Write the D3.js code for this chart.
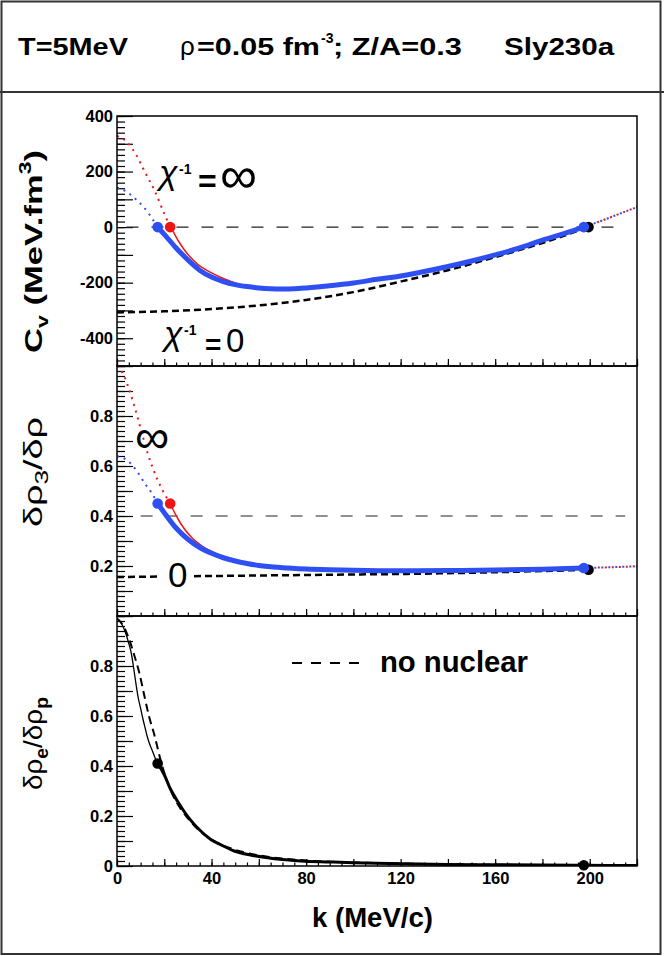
<!DOCTYPE html>
<html>
<head>
<meta charset="utf-8">
<script src="https://cdn.jsdelivr.net/npm/d3@7"></script>
<style>
  body { margin: 0; background: #fff; }
  svg { display: block; }
  text { font-family: "Liberation Sans", Arial, Helvetica, sans-serif; }
</style>
</head>
<body>
<svg id="drawing_region"></svg>
<script>
// ---- values, k in MeV/c ----
const kDomain = [0, 220];
const kLabels = [0, 40, 80, 120, 160, 200];

// top panel: C_v (MeV.fm^3)
const cvBlue = [[17.2,0],[20,-26],[25,-75],[30,-118],[35,-155],[40,-180],[45,-196],[50,-207],[55,-214],[60,-219],[65,-222],[70,-223],[75,-222],[80,-219],[90,-211],[100,-201],[110,-188],[120,-176],[130,-160],[140,-142],[150,-122],[160,-100],[170,-76],[180,-47],[190,-21],[197.5,0]];
const cvRed = [[22.5,0],[24,-20],[26,-50],[28,-76],[31,-108],[34,-133],[37,-150],[40,-165],[45,-185],[50,-201],[55,-212],[60,-218],[65,-222]];
const cvBlueLow = [[0,142],[4,128],[8,100],[11,75],[14,42],[17.2,0]];
const cvRedLow = [[0,328],[4,308],[8,262],[12,195],[16,130],[20,48],[22.5,0]];
const cvHigh = [[197.5,0],[205,23],[212,46],[220,72]];
const cvZero = [[0,-307],[20,-303],[40,-295],[60,-282],[80,-262],[100,-234],[120,-196],[140,-155],[160,-108],[180,-57],[199.5,0]];
const cvRef = [[4,0],[215,0]];
const cvBlueDots = [[17.2,0],[197.5,0]];
const cvRedDots = [[22.5,0]];
const cvBlackDots = [[199.5,0]];
const cvLabels = [400, 200, 0, -200, -400];

// middle panel: d rho3 / d rho
const r3Blue = [[17.2,0.45],[20,0.413],[25,0.352],[30,0.307],[35,0.274],[40,0.251],[45,0.233],[50,0.22],[55,0.21],[60,0.202],[70,0.193],[80,0.188],[90,0.185],[100,0.183],[120,0.181],[140,0.182],[160,0.184],[180,0.187],[197.5,0.192]];
const r3Red = [[22.5,0.45],[24,0.42],[26,0.385],[28,0.355],[32,0.31],[36,0.28],[40,0.258],[45,0.238],[50,0.222],[55,0.211],[60,0.203]];
const r3BlueLow = [[0,0.639],[4,0.625],[8,0.585],[12,0.527],[15,0.487],[17.2,0.45]];
const r3RedLow = [[0,1.0],[3,0.96],[5,0.91],[7,0.85],[9,0.785],[11,0.715],[13,0.65],[15,0.595],[17,0.548],[20,0.49],[22.5,0.45]];
const r3High = [[197.5,0.192],[205,0.194],[212,0.196],[220,0.199]];
const r3Zero = [[0,0.156],[50,0.161],[100,0.166],[120,0.168],[150,0.173],[199.5,0.185]];
const r3Ref = [[10,0.4],[215,0.4]];
const r3BlueDots = [[17.2,0.45],[197.5,0.192]];
const r3RedDots = [[22.5,0.45]];
const r3BlackDots = [[199.5,0.185]];
const r3Labels = [0.2, 0.4, 0.6, 0.8];

// bottom panel: d rho_e / d rho_p
const reThin = [[0,0.99],[2,0.968],[3.5,0.936],[5,0.89],[6,0.853],[7,0.795],[8,0.73],[9,0.672],[10,0.63],[11,0.587],[12,0.548],[13,0.511],[14,0.483],[15,0.46],[16,0.435],[17.2,0.41]];
const reThick = [[17.2,0.41],[20,0.365],[22.5,0.31],[25.6,0.259],[29,0.21],[32.7,0.166],[36,0.135],[39.7,0.106],[45,0.08],[49.6,0.06],[56,0.045],[63.7,0.033],[70,0.026],[77.8,0.02],[90,0.016],[100,0.013],[120,0.009],[140,0.006],[160,0.005],[180,0.004],[197.5,0.003],[220,0.002]];
const reNoNuclear = [[0,0.99],[2,0.97],[4.5,0.923],[7.3,0.843],[9.5,0.77],[11.5,0.684],[13.5,0.6],[15.8,0.525],[18.6,0.418],[21,0.345],[24.2,0.272],[27,0.228],[29.9,0.192],[35,0.14],[41,0.1],[49.6,0.066],[56,0.05],[63.7,0.037],[70,0.03],[80,0.022],[100,0.014],[120,0.01],[140,0.007],[160,0.005],[200,0.003],[220,0.002]];
const reDots = [[17.2,0.41],[197.5,0.003]];
const reLabels = [0, 0.2, 0.4, 0.6, 0.8];

const BLUE = '#2e50f2', RED = '#f01414';

const svg = d3.select('#drawing_region').attr('width', 664).attr('height', 956);

const x = d3.scaleLinear().domain(kDomain).range([117, 637]);
const yCv = d3.scaleLinear().domain([-500, 400]).range([366, 116]);
const yR3 = d3.scaleLinear().domain([0, 1]).range([616, 366]);
const yRe = d3.scaleLinear().domain([0, 1]).range([866, 616]);

// outer frame + header separator
svg.append('rect').attr('x', 1.5).attr('y', 1.5).attr('width', 659).attr('height', 952.5)
  .attr('fill', 'none').attr('stroke', '#333').attr('stroke-width', 2);
svg.append('line').attr('x1', 0).attr('x2', 664).attr('y1', 92).attr('y2', 92)
  .attr('stroke', '#333').attr('stroke-width', 2);

function fitText(tx, ty, rot, target, build) {
  const g = svg.append('g');
  const t = g.append('text');
  build(t);
  const w = t.node().getBBox().width;
  g.attr('transform', `translate(${tx},${ty}) rotate(${rot}) scale(${target / w},1)`);
  return g;
}

function panel(id, y, step, minorStep, labels, fmt, withXLabels) {
  const [yb, yt] = y.range();
  const [lo, hi] = y.domain();

  // left axis: minor, major, labels
  const major = d3.range(lo, hi + step / 2, step);
  const minor = d3.range(lo, hi + minorStep / 2, minorStep);
  const left = svg.append('g').attr('transform', 'translate(117,0)');
  left.append('g').call(d3.axisLeft(y).tickValues(minor).tickSizeInner(-8).tickSizeOuter(0).tickFormat(''));
  left.append('g').call(d3.axisLeft(y).tickValues(major).tickSizeInner(-16).tickSizeOuter(0).tickFormat(''));
  left.append('g').call(d3.axisLeft(y).tickValues(labels).tickSize(0).tickPadding(4).tickFormat(fmt));

  // bottom axis, ticks pointing up
  const bottom = svg.append('g').attr('transform', `translate(0,${yb})`);
  bottom.append('g').call(d3.axisBottom(x).tickValues(d3.range(0, 221, 5)).tickSizeInner(-3.5).tickSizeOuter(0).tickFormat(''));
  bottom.append('g').call(d3.axisBottom(x).tickValues(d3.range(0, 221, 20)).tickSizeInner(-7).tickSizeOuter(0).tickFormat(''));
  if (withXLabels) {
    bottom.append('g').call(d3.axisBottom(x).tickValues(kLabels).tickSize(0).tickPadding(6));
  }

  svg.selectAll('.domain').remove();
  svg.selectAll('.tick line').attr('stroke-width', 1.2);
  svg.selectAll('.tick text').attr('font-size', 16.5).attr('font-weight', 'bold')
    .attr('font-family', '"Liberation Sans", Arial, sans-serif').attr('fill', '#000');

  svg.append('clipPath').attr('id', 'clip-' + id).append('rect')
    .attr('x', 117).attr('y', yt).attr('width', 520).attr('height', yb - yt);
  const g = svg.append('g').attr('clip-path', `url(#clip-${id})`);
  return g;
}

function frame(y) {
  const [yb, yt] = y.range();
  svg.append('rect').attr('x', 117).attr('y', yt).attr('width', 520).attr('height', yb - yt)
    .attr('fill', 'none').attr('stroke', '#000').attr('stroke-width', 1.5);
}

function curve(g, y, data, color, width, dash, offset) {
  const line = d3.line().x(d => x(d[0])).y(d => y(d[1])).curve(d3.curveMonotoneX);
  g.append('path').datum(data).attr('d', line)
    .attr('fill', 'none').attr('stroke', color).attr('stroke-width', width)
    .attr('stroke-dasharray', dash || null).attr('stroke-dashoffset', offset || 0);
}

function dots(y, data, color) {
  svg.append('g').selectAll('circle').data(data).enter().append('circle')
    .attr('cx', d => x(d[0])).attr('cy', d => y(d[1])).attr('r', 5.3).attr('fill', color);
}

const fmt1 = d => d === 0 ? '0' : d.toFixed(1);

// ---- top panel ----
const g1 = panel('cv', yCv, 100, 20, cvLabels, d => String(d), false);
curve(g1, yCv, cvRef, '#222', 1.2, '12,13');
curve(g1, yCv, cvZero, '#000', 2.5, '7,4');
curve(g1, yCv, cvRedLow, RED, 2, '2,5');
curve(g1, yCv, cvBlueLow, BLUE, 2, '2,5');
curve(g1, yCv, cvHigh, RED, 2, '2,5');
curve(g1, yCv, cvHigh, BLUE, 2, '2,5', 3.5);
curve(g1, yCv, cvRed, RED, 1.5);
curve(g1, yCv, cvBlue, BLUE, 5);
frame(yCv);
dots(yCv, cvBlackDots, '#000');
dots(yCv, cvRedDots, RED);
dots(yCv, cvBlueDots, BLUE);

// ---- middle panel ----
const g2 = panel('r3', yR3, 0.1, 0.02, r3Labels, fmt1, false);
curve(g2, yR3, r3Ref, '#222', 1.2, '12,13');
curve(g2, yR3, r3Zero, '#000', 2.5, '7,4');
curve(g2, yR3, r3RedLow, RED, 2, '2,5');
curve(g2, yR3, r3BlueLow, BLUE, 2, '2,5');
curve(g2, yR3, r3High, RED, 2, '2,5');
curve(g2, yR3, r3High, BLUE, 2, '2,5', 3.5);
curve(g2, yR3, r3Red, RED, 1.5);
curve(g2, yR3, r3Blue, BLUE, 5);
frame(yR3);
dots(yR3, r3BlackDots, '#000');
dots(yR3, r3RedDots, RED);
dots(yR3, r3BlueDots, BLUE);

// ---- bottom panel ----
const g3 = panel('re', yRe, 0.1, 0.02, reLabels, fmt1, true);
curve(g3, yRe, reNoNuclear, '#000', 2, '8,5');
curve(g3, yRe, reThin, '#000', 1.3);
curve(g3, yRe, reThick, '#000', 3);
frame(yRe);
dots(yRe, reDots, '#000');

// ---- annotations ----
const serif = '"Liberation Serif", "Times New Roman", serif';
function put(xp, yp, str, size, opts) {
  const t = svg.append('text').attr('x', xp).attr('y', yp).attr('font-size', size).text(str);
  if (opts && opts.serif) t.attr('font-family', serif);
  if (opts && opts.italic) t.attr('font-style', 'italic');
  if (opts && opts.bold) t.attr('font-weight', 'bold');
  return t;
}
function chiLabel(xc, yBase, eqX, eqY, eqSize) {
  const chi = put(xc, yBase, 'χ', 34, {serif: true, italic: true});
  const b = chi.node().getBBox();
  put(b.x + b.width, yBase - 10, '-1', 14, {bold: true});
  put(eqX, eqY, '=', eqSize, {bold: true});
}
// chi^-1 = infinity
chiLabel(159, 184, 198, 192, 32);
put(220, 193, '∞', 52, {serif: true});
// chi^-1 = 0
chiLabel(164, 345, 205, 354, 28);
put(226, 352, '0', 33, {serif: true});
// middle
put(135, 453, '∞', 48, {serif: true});
svg.append('rect').attr('x', 158).attr('y', 560).attr('width', 35).attr('height', 32).attr('fill', '#fff');
put(168, 587, '0', 35, {serif: true});

// legend, bottom panel
svg.append('line').attr('x1', 292).attr('x2', 360).attr('y1', 663).attr('y2', 663)
  .attr('stroke', '#000').attr('stroke-width', 2).attr('stroke-dasharray', '10,9');
fitText(380, 672, 0, 148, t => t.attr('font-weight', 'bold').attr('font-size', 29).text('no nuclear'));

// header
fitText(18, 55, 0, 110, t => t.attr('font-weight', 'bold').attr('font-size', 24).text('T=5MeV'));
put(180, 55, 'ρ', 26, {serif: true});
fitText(197, 55, 0, 123, t => t.attr('font-weight', 'bold').attr('font-size', 24).text('=0.05 fm'));
put(321, 43, '-3', 14, {bold: true});
fitText(333, 55, 0, 129, t => t.attr('font-weight', 'bold').attr('font-size', 24).text('; Z/A=0.3'));
fitText(504, 55, 0, 111, t => t.attr('font-weight', 'bold').attr('font-size', 24).text('Sly230a'));

// axis titles
fitText(312, 927, 0, 121, t => t.attr('font-weight', 'bold').attr('font-size', 27).text('k (MeV/c)'));
fitText(42, 353, -90, 203, t => {
  t.attr('font-weight', 'bold').attr('font-size', 24);
  t.append('tspan').text('C');
  t.append('tspan').attr('font-size', 16).attr('dy', 6).text('v');
  t.append('tspan').attr('dy', -6).text(' (MeV.fm');
  t.append('tspan').attr('font-size', 16).attr('dy', -11).text('3');
  t.append('tspan').attr('dy', 11).text(')');
});
fitText(42, 527, -90, 110, t => {
  t.attr('font-size', 26);
  t.append('tspan').text('δρ');
  t.append('tspan').attr('font-size', 18).attr('dy', 6).text('3');
  t.append('tspan').attr('dy', -6).text('/δρ');
});
fitText(42, 790, -90, 93, t => {
  t.attr('font-size', 26);
  t.append('tspan').text('δρ');
  t.append('tspan').attr('font-size', 18).attr('font-weight', 'bold').attr('dy', 6).text('e');
  t.append('tspan').attr('dy', -6).text('/δρ');
  t.append('tspan').attr('font-size', 18).attr('font-weight', 'bold').attr('dy', 6).text('p');
});
</script>
</body>
</html>
